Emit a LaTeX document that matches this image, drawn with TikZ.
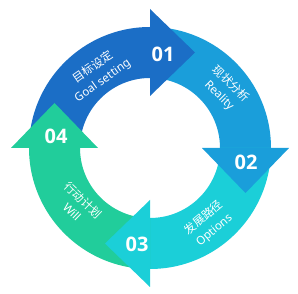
\documentclass[tikz,border=0pt]{standalone}
\usepackage{fontspec}
\setmainfont{Noto Sans}
\newfontfamily\cjk{Noto Sans CJK SC}
\newfontfamily\numfont{Open Sans}
\definecolor{c1}{HTML}{1B6EC6}
\definecolor{c2}{HTML}{1A9EDA}
\definecolor{c3}{HTML}{1BCFD8}
\definecolor{c4}{HTML}{21CD9B}
\begin{document}
\begin{tikzpicture}[x=1pt,y=1pt,
  num/.style={text=white,inner sep=0pt,font=\numfont\bfseries\fontsize{20}{20}\selectfont},
  lab/.style={text=white,align=center,inner sep=0pt,font=\fontsize{11.5}{16}\selectfont}]
\useasboundingbox (0,0) rectangle (298,294);
\begin{scope}[shift={(150,146)}]
  % ring bodies
  \fill[c1] (180:121) arc (180:90:121) -- (90:70) arc (90:180:70) -- cycle;
  \fill[c2] (90:121) arc (90:0:121) -- (0:70) arc (0:90:70) -- cycle;
  \fill[c3] (0:121) arc (0:-90:121) -- (-90:70) arc (-90:0:70) -- cycle;
  \fill[c4] (270:121) arc (270:180:121) -- (180:70) arc (180:270:70) -- cycle;
  % arrow heads
  \fill[c1] (0,52) -- (0,139) -- (45,95.5) -- cycle;
  \fill[c2] (52,0) -- (139,0) -- (95.5,-45) -- cycle;
  \fill[c3] (0,-52) -- (0,-139) -- (-45,-95.5) -- cycle;
  \fill[c4] (-52,0) -- (-139,0) -- (-95.5,45) -- cycle;
\end{scope}
% numbers
\node[num] (n1) at (163,240) {01};
\node[num] (n2) at (246,132) {02};
\node[num] (n3) at (137,50) {03};
\node[num] (n4) at (56,158) {04};
% labels
\node[lab,rotate=35] (l1) at (98,220) {{\cjk 目标设定}\\Goal setting};
\node[lab,rotate=-45] (l2) at (225,204) {{\cjk 现状分析}\\Reality};
\node[lab,rotate=40] (l3) at (209,70) {{\cjk 发展路径}\\Options};
\node[lab,rotate=-44] (l4) at (78,88) {{\cjk 行动计划}\\Will};
\end{tikzpicture}
\end{document}
